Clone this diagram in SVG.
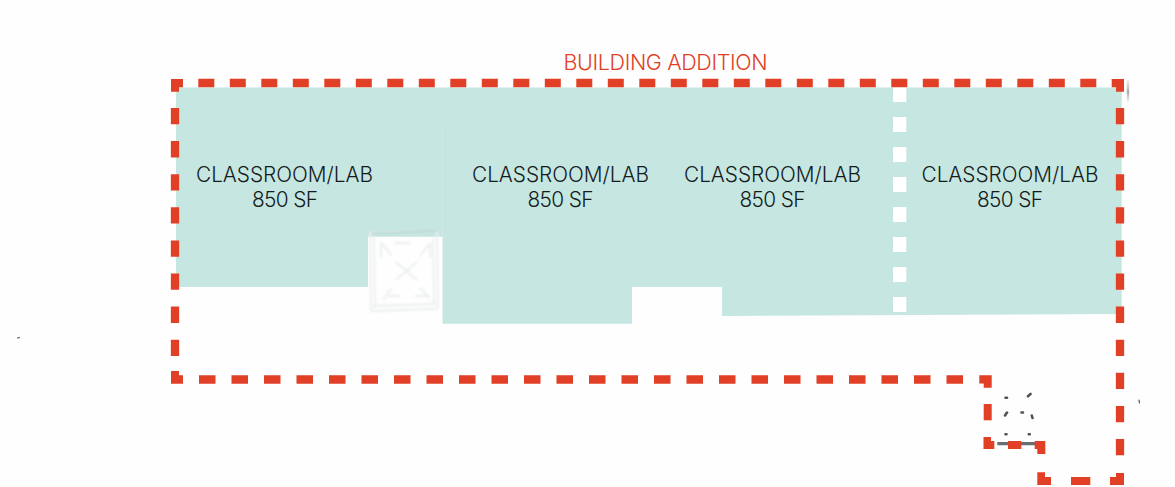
<svg xmlns="http://www.w3.org/2000/svg" width="1175" height="487" viewBox="0 0 1175 487">
  <style>
    .room { font-family: Inter, "Liberation Sans", Arial, sans-serif; font-weight: 300; font-size: 20.800px; fill: #141c1c; text-anchor: middle; }
    .title { font-family: Inter, "Liberation Sans", Arial, sans-serif; font-weight: 300; font-size: 21.500px; fill: #e23f26; text-anchor: middle; }
    .red { fill: #e23f26; stroke: none; }
    .dash { fill: none; stroke: #e23f26; stroke-width: 8.300; }
    .gap { fill: #ffffff; }
    .sketch { fill: none; stroke: #ebeeee; stroke-width: 1.800; }
    .mark { fill: none; stroke: #4e5458; stroke-width: 2.600; stroke-linecap: round; }
  </style>
  <defs>
    <linearGradient id="fade" x1="0" y1="0" x2="0" y2="1">
      <stop offset="0" stop-color="#b4b6b8" stop-opacity="0.2"/>
      <stop offset="0.5" stop-color="#8e9294" stop-opacity="0.8"/>
      <stop offset="1" stop-color="#b4b6b8" stop-opacity="0"/>
    </linearGradient>
    <filter id="soft" x="-5%" y="-5%" width="110%" height="110%"><feGaussianBlur stdDeviation="0.350"/></filter>
    <filter id="softer" x="-10%" y="-10%" width="120%" height="120%"><feGaussianBlur stdDeviation="0.800"/></filter>
  </defs>
  <rect width="1175" height="487" fill="#fefefe"/>

  <polygon id="floor-area" fill="#c6e6e1" points="176,87.500 1121.700,87.500 1121.700,314 722,316 722,287 632,287 632,323.700 442.500,323.700 442.500,236.700 368,236.700 368,287 176,287"/>
  <path d="M442.500 130V237" stroke="#cdeae5" stroke-width="1" fill="none"/>

  <g id="partition">
    <rect class="gap" x="893" y="87" width="13.300" height="15"/>
    <rect class="gap" x="893" y="117" width="13.300" height="15"/>
    <rect class="gap" x="893" y="147" width="13.300" height="15"/>
    <rect class="gap" x="893" y="177" width="13.300" height="15"/>
    <rect class="gap" x="893" y="207" width="13.300" height="15"/>
    <rect class="gap" x="893" y="237" width="13.300" height="15"/>
    <rect class="gap" x="893" y="267" width="13.300" height="15"/>
    <rect class="gap" x="893" y="297" width="13.300" height="15"/>
  </g>

  <g id="sketch-patch" filter="url(#softer)">
    <path class="sketch" d="M369 233L398 232L429 231L437 230M370 232L371 311M374 236L375 308M371 311L404 310L438 308.500M373 306L436 304M437 231L438 309M433 238L434 304"/>
    <path class="sketch" stroke-width="3" d="M382 243L392 256M430 243L420 256M383 300L392 288M430 298L420 288M394 243H410M381 243V258M430 243V258M388 296H400M415 296H428"/>
    <path class="sketch" d="M396 262L417 280M417 262L396 280"/>
    <path d="M372 233.500L398 232.500L437 230.500" fill="none" stroke="#b4d3ce" stroke-width="1.300"/>
  </g>

  <g id="site-marks">
    <path class="mark" d="M1005.500 397.700H1007M1028 396.300L1030.500 394M1005 415.500L1007 412.500M1021.500 412.500H1023M1031.800 415.500L1032.500 418M1005.500 434.300H1006.500M1028.800 434.300H1029.800"/>
    <path d="M997.300 443.700H1036" fill="none" stroke="#696e72" stroke-width="3.200"/>
    <path class="mark" style="stroke-width:1.200" d="M1139 400L1139.500 403M17.500 338L19.500 337.500"/>
    <rect x="1126.800" y="80" width="2.400" height="24" fill="url(#fade)"/>
  </g>

  <g id="addition-boundary" filter="url(#soft)">
    <path class="dash" d="M198.300 83H1097" stroke-dasharray="16 15.500"/>
    <path class="dash" d="M175 108V360" stroke-dasharray="16.300 16.800"/>
    <path class="dash" d="M1120 108V456" stroke-dasharray="16.300 16.800"/>
    <path class="dash" d="M199 379.500H964" stroke-dasharray="16.500 16"/>
    <polygon class="red" points="171,79 183,79 183,87.300 179,87.300 179,91.700 171,91.700"/>
    <polygon class="red" points="1111.700,79 1124,79 1124,91.700 1116,91.700 1116,87.300 1111.700,87.300"/>
    <polygon class="red" points="171,371 179,371 179,375.300 183,375.300 183,383.700 171,383.700"/>
    <polygon class="red" points="979.300,375.300 991.700,375.300 991.700,387.700 983.700,387.700 983.700,383.500 979.300,383.500"/>
    <rect class="red" x="983.700" y="404" width="8" height="16.300"/>
    <polygon class="red" points="983.500,437 991,437 991,441 994.300,441 994.300,449 983.500,449"/>
    <rect class="red" x="1008" y="441" width="13.300" height="8"/>
    <polygon class="red" points="1034.700,441 1045.300,441 1045.300,454 1037.300,454 1037.300,449 1034.700,449"/>
    <polygon class="red" points="1037.300,472.300 1045,472.300 1045,477 1051,477 1051,485 1037.300,485"/>
    <rect class="red" x="1071" y="477" width="19.300" height="8"/>
    <polygon class="red" points="1116,473 1124,473 1124,485 1110,485 1110,477 1116,477"/>
  </g>

  <g id="room-1">
    <text class="room" x="284.500" y="182.300" textLength="177">CLASSROOM/LAB</text>
    <text class="room" x="285" y="207.300" textLength="66">850 SF</text>
  </g>
  <g id="room-2">
    <text class="room" x="560.500" y="182.300" textLength="177">CLASSROOM/LAB</text>
    <text class="room" x="560.500" y="207.300" textLength="66">850 SF</text>
  </g>
  <g id="room-3">
    <text class="room" x="772.500" y="182.300" textLength="177">CLASSROOM/LAB</text>
    <text class="room" x="772.500" y="207.300" textLength="66">850 SF</text>
  </g>
  <g id="room-4">
    <text class="room" x="1010" y="182.300" textLength="177">CLASSROOM/LAB</text>
    <text class="room" x="1010" y="207.300" textLength="66">850 SF</text>
  </g>
  <text id="title" class="title" x="665.500" y="70" textLength="204">BUILDING ADDITION</text>
</svg>
